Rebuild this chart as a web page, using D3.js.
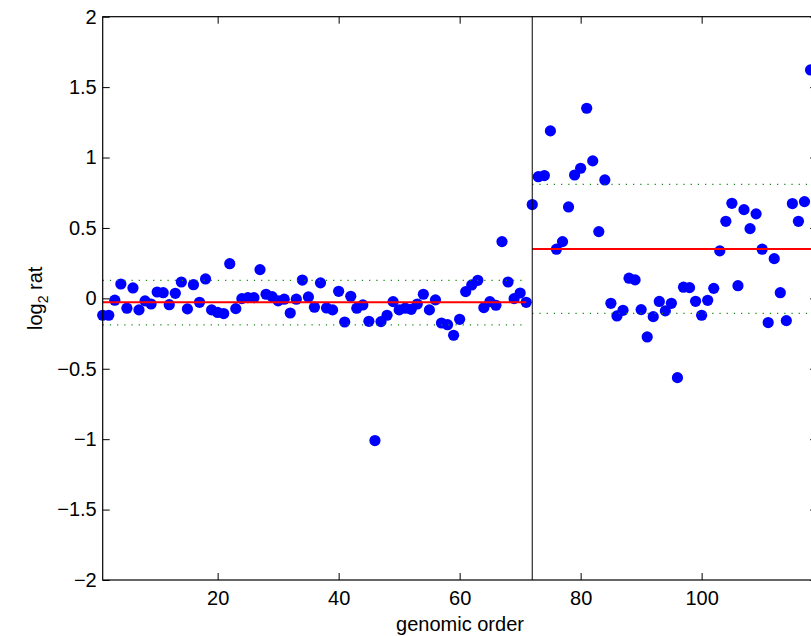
<!DOCTYPE html>
<html>
<head>
<meta charset="utf-8">
<script src="https://cdn.jsdelivr.net/npm/d3@7"></script>
<style>
  body { margin: 0; background: #fff; }
  svg { display: block; font-family: "Liberation Sans", Arial, Helvetica, sans-serif; }
</style>
</head>
<body>
<svg id="plot_svg" width="811" height="636"></svg>
<script>
// genomic order of each probe and its log2 ratio
var probeIndex = d3.range(1, 119);
var log2Ratio = [
  -0.12, -0.12, -0.013, 0.102, -0.07, 0.074, -0.082, -0.018, -0.04, 0.045,
  0.04, -0.045, 0.036, 0.116, -0.075, 0.097, -0.028, 0.138, -0.082, -0.1,
  -0.108, 0.246, -0.073, -0.002, 0.005, 0.005, 0.204, 0.029, 0.012, -0.018,
  -0.006, -0.104, -0.006, 0.13, 0.01, -0.063, 0.11, -0.068, -0.082, 0.05,
  -0.168, 0.015, -0.07, -0.047, -0.163, -1.01, -0.165, -0.12, -0.023, -0.082,
  -0.07, -0.078, -0.04, 0.029, -0.082, -0.011, -0.175, -0.187, -0.262, -0.149,
  0.048, 0.095, 0.128, -0.066, -0.023, -0.049, 0.403, 0.116, -0.002, 0.038,
  -0.028, 0.666, 0.864, 0.872, 1.189, 0.349, 0.403, 0.649, 0.876, 0.924,
  1.35, 0.976, 0.474, 0.841, -0.035, -0.125, -0.085, 0.143, 0.131, -0.08,
  -0.274, -0.13, -0.022, -0.089, -0.035, -0.563, 0.079, 0.076, -0.021, -0.12,
  -0.014, 0.071, 0.337, 0.547, 0.675, 0.09, 0.63, 0.495, 0.6, 0.349,
  -0.172, 0.282, 0.04, -0.158, 0.673, 0.547, 0.687, 1.622
];

// segments found by the segmentation
var segStart = [1, 72];
var segEnd = [71, 130];
var segMean = [-0.028, 0.351];
var segUpper = [0.128, 0.81];
var segLower = [-0.189, -0.106];
var breakPoints = [72];

var xTicks = [20, 40, 60, 80, 100];
var yTicks = [-2, -1.5, -1, -0.5, 0, 0.5, 1, 1.5, 2];

var plot = { left: 102.7, right: 817.2, top: 16.7, bottom: 580 };
var tickLen = 7;

var svg = d3.select("#plot_svg");

var x = d3.scaleLinear().domain([1, 119.1]).range([plot.left, plot.right]);
var y = d3.scaleLinear().domain([-2, 2]).range([plot.bottom, plot.top]);

var points = probeIndex.map(function (d, i) { return { pos: d, value: log2Ratio[i] }; });

// data points
svg.append("g")
  .selectAll("circle")
  .data(points)
  .enter()
  .append("circle")
  .attr("cx", function (d) { return x(d.pos); })
  .attr("cy", function (d) { return y(d.value); })
  .attr("r", 5.6)
  .attr("fill", "#0000ff");

var segs = segStart.map(function (s, i) {
  return { start: s, end: segEnd[i], mean: segMean[i], upper: segUpper[i], lower: segLower[i] };
});

// dotted bands
var bandG = svg.append("g");
segs.forEach(function (s) {
  [s.upper, s.lower].forEach(function (v) {
    bandG.append("line")
      .attr("x1", x(s.start))
      .attr("x2", x(s.end))
      .attr("y1", y(v))
      .attr("y2", y(v))
      .attr("stroke", "#0f8a0f")
      .attr("stroke-width", 1.3)
      .attr("stroke-dasharray", "1.2,6");
  });
});

// segment means
svg.append("g")
  .selectAll("line")
  .data(segs)
  .enter()
  .append("line")
  .attr("x1", function (d) { return x(d.start); })
  .attr("x2", function (d) { return x(d.end); })
  .attr("y1", function (d) { return y(d.mean); })
  .attr("y2", function (d) { return y(d.mean); })
  .attr("stroke", "#ff0000")
  .attr("stroke-width", 2);

// breakpoint
svg.append("g")
  .selectAll("line")
  .data(breakPoints)
  .enter()
  .append("line")
  .attr("x1", function (d) { return x(d); })
  .attr("x2", function (d) { return x(d); })
  .attr("y1", plot.top)
  .attr("y2", plot.bottom)
  .attr("stroke", "#000")
  .attr("stroke-width", 1);

// axes, ticks point inward like matlab
var bottomAxis = svg.append("g")
  .attr("transform", "translate(0," + plot.bottom + ")")
  .call(d3.axisBottom(x).tickValues(xTicks).tickSizeInner(-tickLen).tickSizeOuter(0).tickPadding(10.5));

var topAxis = svg.append("g")
  .attr("transform", "translate(0," + plot.top + ")")
  .call(d3.axisTop(x).tickValues(xTicks).tickSizeInner(-tickLen).tickSizeOuter(0).tickFormat(""));

var leftAxis = svg.append("g")
  .attr("transform", "translate(" + plot.left + ",0)")
  .call(d3.axisLeft(y).tickValues(yTicks).tickSizeInner(-tickLen).tickSizeOuter(0).tickPadding(6)
    .tickFormat(function (d) { return d3.format("")(d).replace("-", "\u2212"); }));

var rightAxis = svg.append("g")
  .attr("transform", "translate(" + plot.right + ",0)")
  .call(d3.axisRight(y).tickValues(yTicks).tickSizeInner(-tickLen).tickSizeOuter(0).tickFormat(""));

[bottomAxis, topAxis, leftAxis, rightAxis].forEach(function (a) {
  a.select(".domain").remove();
  a.selectAll("line").attr("stroke", "#000").attr("stroke-width", 1);
  a.selectAll("text").style("font-size", "20px").attr("fill", "#000");
});

svg.append("rect")
  .attr("x", plot.left)
  .attr("y", plot.top)
  .attr("width", plot.right - plot.left)
  .attr("height", plot.bottom - plot.top)
  .attr("fill", "none")
  .attr("stroke", "#000")
  .attr("stroke-width", 1.2);

// axis titles
svg.append("text")
  .attr("x", 460)
  .attr("y", 631)
  .attr("text-anchor", "middle")
  .style("font-size", "20px")
  .text("genomic order");

var yTitle = svg.append("text")
  .attr("transform", "translate(42," + y(0) + ") rotate(-90)")
  .attr("text-anchor", "middle")
  .style("font-size", "20px");
yTitle.append("tspan").text("log");
yTitle.append("tspan").attr("dy", 6).style("font-size", "14px").text("2");
yTitle.append("tspan").attr("dy", -6).text(" rat");
</script>
</body>
</html>
